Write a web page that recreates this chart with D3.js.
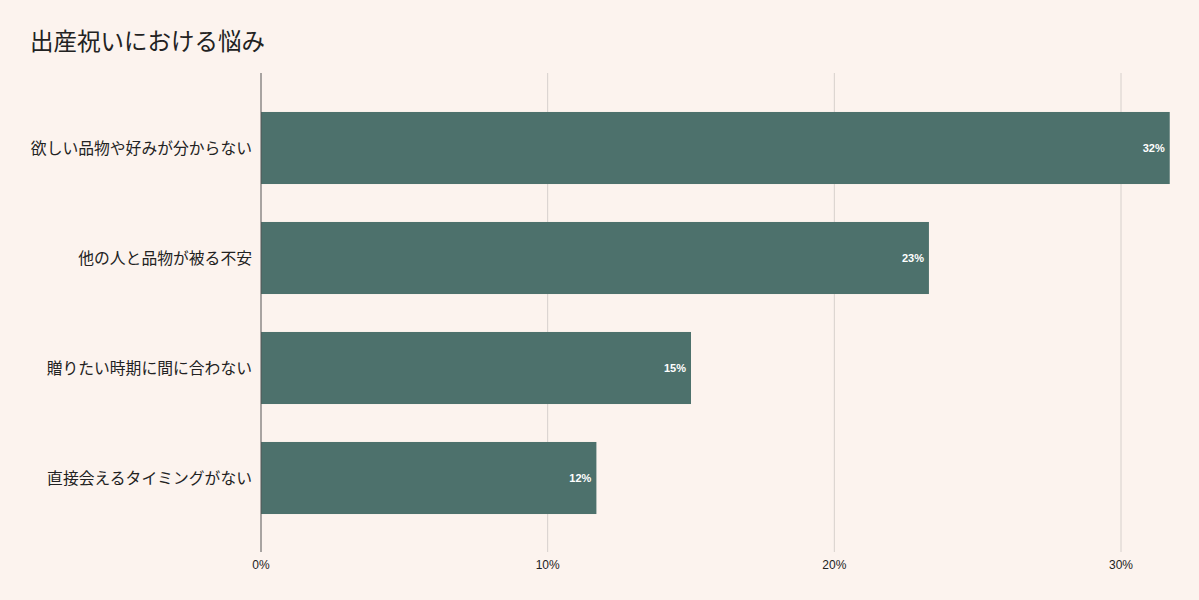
<!DOCTYPE html>
<html><head><meta charset="utf-8">
<script src="https://cdn.jsdelivr.net/npm/d3@7"></script>
<style>
body{margin:0;background:#fcf3ee;}
svg{display:block;font-family:"Liberation Sans","Noto Sans CJK JP",sans-serif;}
</style></head>
<body>
<svg id="chart" width="1199" height="600"></svg>
<script>
const title = "出産祝いにおける悩み";
const categories = ["欲しい品物や好みが分からない","他の人と品物が被る不安","贈りたい時期に間に合わない","直接会えるタイミングがない"];
const values = [31.7, 23.3, 15.0, 11.7];
const valueLabels = ["32%","23%","15%","12%"];
const tickValues = [0,10,20,30];
const tickLabels = ["0%","10%","20%","30%"];

const svg = d3.select("#chart");
svg.append("rect").attr("width",1199).attr("height",600).attr("fill","#fcf3ee");
svg.append("text").attr("x",30).attr("y",50).attr("font-size",23.5).attr("fill","#222").text(title);

const x = d3.scaleLinear().domain([0,30]).range([261,1121]);
const y = d3.scaleBand().domain(categories).range([93,533]).paddingInner(0.345).paddingOuter(0.1725);
const gTop = 73, gBot = 552;

svg.append("g").selectAll("line").data(tickValues.filter(d=>d>0)).join("line")
  .attr("x1",d=>x(d)).attr("x2",d=>x(d)).attr("y1",gTop).attr("y2",gBot)
  .attr("stroke","#d6d0cc").attr("stroke-width",1);

svg.append("g").selectAll("rect").data(values).join("rect")
  .attr("x",x(0)).attr("y",(d,i)=>y(categories[i]))
  .attr("width",d=>x(d)-x(0)).attr("height",y.bandwidth())
  .attr("fill","#4d716c");

svg.append("line").attr("x1",x(0)).attr("x2",x(0)).attr("y1",gTop).attr("y2",gBot)
  .attr("stroke","#555").attr("stroke-width",1);

svg.append("g").selectAll("text").data(values).join("text")
  .attr("x",d=>x(d)-5).attr("y",(d,i)=>y(categories[i])+y.bandwidth()/2+4)
  .attr("text-anchor","end").attr("font-size",11).attr("font-weight","bold")
  .attr("fill","#fff").text((d,i)=>valueLabels[i]);

svg.append("g").selectAll("text").data(categories).join("text")
  .attr("x",252).attr("y",d=>y(d)+y.bandwidth()/2+6)
  .attr("text-anchor","end").attr("font-size",15.8).attr("fill","#222").text(d=>d);

svg.append("g").selectAll("text").data(tickValues).join("text")
  .attr("x",d=>x(d)).attr("y",569).attr("text-anchor","middle")
  .attr("font-size",12).attr("fill","#222").text((d,i)=>tickLabels[i]);
</script>
</body></html>
